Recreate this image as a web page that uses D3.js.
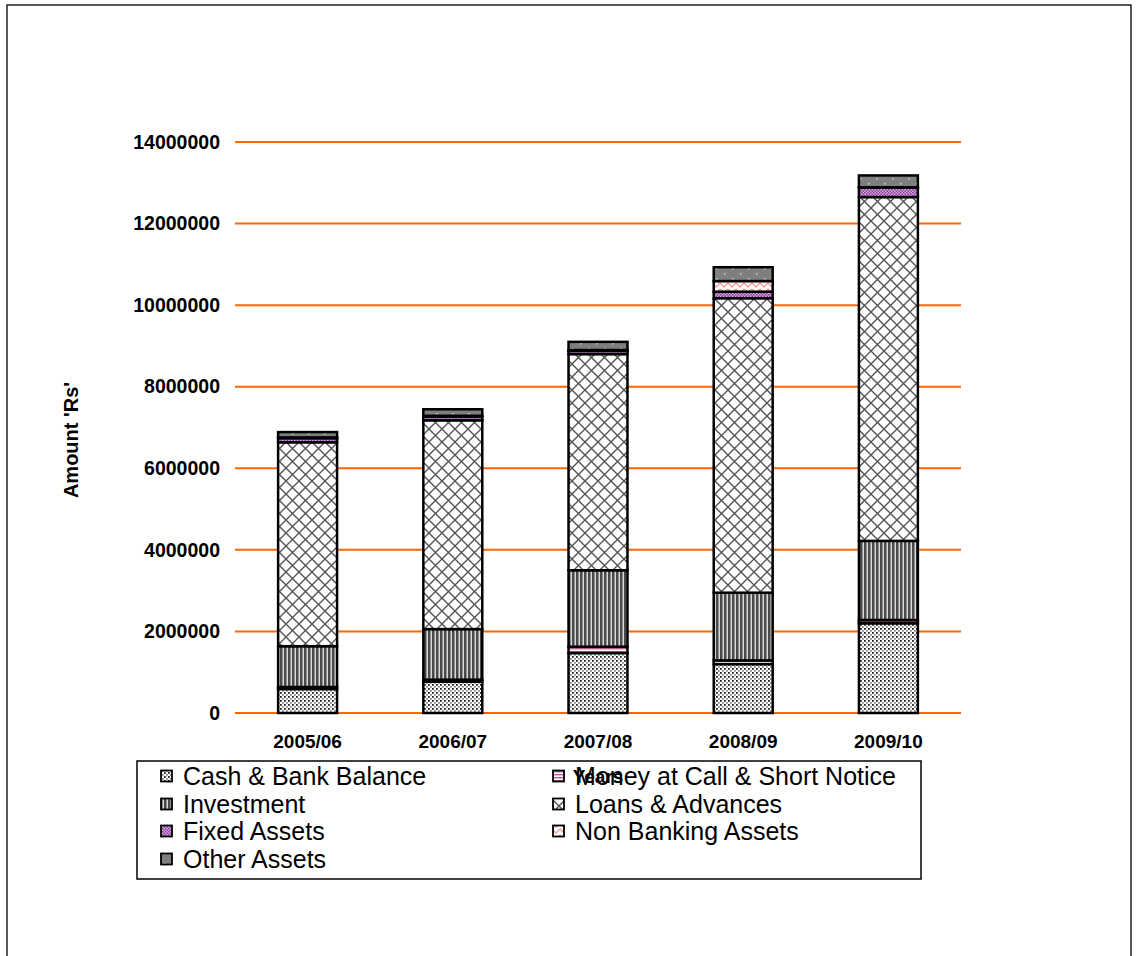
<!DOCTYPE html>
<html>
<head>
<meta charset="utf-8">
<script src="https://cdn.jsdelivr.net/npm/d3@7/dist/d3.min.js"></script>
<style>
  html, body { margin: 0; padding: 0; background: #fff; }
  svg { display: block; }
  text { font-family: "Liberation Sans", Arial, sans-serif; }
</style>
</head>
<body>
<svg id="chart" width="1138" height="956"></svg>
<script>
// Assets by year (Rs)
const years = ["2005/06", "2006/07", "2007/08", "2008/09", "2009/10"];
const seriesNames = [
  "Cash & Bank Balance",
  "Money at Call & Short Notice",
  "Investment",
  "Loans & Advances",
  "Fixed Assets",
  "Non Banking Assets",
  "Other Assets"
];
const cashBank      = [588000, 767000, 1470000, 1200000, 2200000];
const moneyAtCall   = [50000, 50000, 155000, 90000, 80000];
const investment    = [1000000, 1240000, 1875000, 1660000, 1940000];
const loansAdvances = [5000000, 5120000, 5300000, 7220000, 8430000];
const fixedAssets   = [100000, 90000, 80000, 160000, 230000];
const nonBanking    = [20000, 20000, 20000, 260000, 10000];
const otherAssets   = [130000, 160000, 200000, 340000, 290000];
const yTicks = [0, 2000000, 4000000, 6000000, 8000000, 10000000, 12000000, 14000000];

const seriesValues = [cashBank, moneyAtCall, investment, loansAdvances, fixedAssets, nonBanking, otherAssets];
const keys = seriesNames;
const table = years.map((y, i) => {
  const row = { year: y };
  keys.forEach((k, j) => { row[k] = seriesValues[j][i]; });
  return row;
});
const stacked = d3.stack().keys(keys)(table);

const svg = d3.select("#chart");

// Fill patterns
const defs = svg.append("defs");
function pattern(id, w, h, draw) {
  const p = defs.append("pattern").attr("id", id)
    .attr("patternUnits", "userSpaceOnUse").attr("width", w).attr("height", h);
  draw(p);
}
pattern("p0", 4, 4, p => {
  p.append("rect").attr("width", 4).attr("height", 4).attr("fill", "#fff");
  p.append("rect").attr("x", 0).attr("y", 0).attr("width", 1.8).attr("height", 1.8).attr("fill", "#222");
  p.append("rect").attr("x", 2).attr("y", 2).attr("width", 1.8).attr("height", 1.8).attr("fill", "#8a8a8a");
});
pattern("p1", 4, 3, p => {
  p.append("rect").attr("width", 4).attr("height", 3).attr("fill", "#fff");
  p.append("rect").attr("y", 0).attr("width", 4).attr("height", 1.4).attr("fill", "#b8608f");
});
pattern("p2", 4, 4, p => {
  p.append("rect").attr("width", 4).attr("height", 4).attr("fill", "#d8d8d8");
  p.append("rect").attr("x", 0).attr("width", 2.5).attr("height", 4).attr("fill", "#4a4a4a");
});
pattern("p3", 13, 13, p => {
  p.append("rect").attr("width", 13).attr("height", 13).attr("fill", "#fff");
  p.append("path").attr("d", "M0,0L13,13M13,0L0,13M-1,12L1,14M12,-1L14,1")
    .attr("stroke", "#555").attr("stroke-width", 1.4).attr("fill", "none");
});
pattern("p4", 3, 3, p => {
  p.append("rect").attr("width", 3).attr("height", 3).attr("fill", "#d6a8e0");
  p.append("rect").attr("x", 0).attr("y", 0).attr("width", 1.5).attr("height", 1.5).attr("fill", "#8a3a9a");
  p.append("rect").attr("x", 1.5).attr("y", 1.5).attr("width", 1.5).attr("height", 1.5).attr("fill", "#8a3a9a");
});
pattern("p5", 8, 6, p => {
  p.append("rect").attr("width", 8).attr("height", 6).attr("fill", "#fff");
  p.append("path").attr("d", "M0,1L4,5L8,1").attr("stroke", "#f29a9a").attr("stroke-width", 1.3).attr("fill", "none");
});
pattern("p6", 16, 10, p => {
  p.append("rect").attr("width", 16).attr("height", 10).attr("fill", "#7f7f7f");
  p.append("rect").attr("x", 4).attr("y", 3).attr("width", 1.5).attr("height", 1.5).attr("fill", "#d0d0d0");
  p.append("rect").attr("x", 12).attr("y", 8).attr("width", 1.5).attr("height", 1.5).attr("fill", "#d0d0d0");
});
const fills = keys.map((k, i) => `url(#p${i})`);

// Outer frame
svg.append("rect").attr("x", 7).attr("y", 5).attr("width", 1124).attr("height", 980)
  .attr("fill", "none").attr("stroke", "#000").attr("stroke-width", 1.3);

const plotLeft = 235, plotRight = 961, plotTop = 142, plotBottom = 713;

const x = d3.scaleBand().domain(years).range([plotLeft, plotRight])
  .paddingInner(0.594).paddingOuter(0.297);
const y = d3.scaleLinear().domain([0, 14000000]).range([plotBottom, plotTop]);

// Gridlines
svg.append("g").selectAll("line").data(yTicks).join("line")
  .attr("x1", plotLeft).attr("x2", plotRight)
  .attr("y1", d => y(d)).attr("y2", d => y(d))
  .attr("stroke", "#ff6600").attr("stroke-width", 2);

// Y axis tick labels
const yAxis = d3.axisLeft(y).tickValues(yTicks).tickSize(0).tickPadding(0)
  .tickFormat(d3.format("d"));
const gy = svg.append("g").attr("transform", `translate(220,0)`).call(yAxis);
gy.select(".domain").remove();
gy.selectAll("text").attr("font-family", "'Liberation Sans', Arial, sans-serif")
  .attr("font-size", 19.5).attr("font-weight", "bold").attr("fill", "#000");

// X axis category labels
const xAxis = d3.axisBottom(x).tickSize(0).tickPadding(0);
const gx = svg.append("g").attr("transform", `translate(0,${plotBottom + 21})`).call(xAxis);
gx.select(".domain").remove();
gx.selectAll("text").attr("font-family", "'Liberation Sans', Arial, sans-serif")
  .attr("font-size", 19).attr("font-weight", "bold").attr("fill", "#000");

// Stacked bars
svg.append("g").selectAll("g").data(stacked).join("g")
  .attr("fill", (d, i) => fills[i])
  .selectAll("rect").data(d => d).join("rect")
  .attr("x", d => x(d.data.year))
  .attr("width", x.bandwidth())
  .attr("y", d => y(d[1]))
  .attr("height", d => y(d[0]) - y(d[1]))
  .attr("stroke", "#000").attr("stroke-width", 2.5);

// Y axis title
svg.append("text")
  .attr("transform", "translate(78,440) rotate(-90)")
  .attr("text-anchor", "middle")
  .attr("font-size", 20).attr("font-weight", "bold")
  .text("Amount 'Rs'");

// Legend
const legend = svg.append("g");
legend.append("rect").attr("x", 137).attr("y", 761).attr("width", 784).attr("height", 118)
  .attr("fill", "#fff").attr("stroke", "#000").attr("stroke-width", 1.5);
const colX = [161, 553];
const rowY = [776, 804, 831, 859];
keys.forEach((k, i) => {
  const cx = colX[i % 2], cy = rowY[Math.floor(i / 2)];
  legend.append("rect").attr("x", cx).attr("y", cy - 5.5).attr("width", 11).attr("height", 11)
    .attr("fill", fills[i]).attr("stroke", "#000").attr("stroke-width", 1.8);
  legend.append("text").attr("x", cx + 22).attr("y", cy + 9)
    .attr("font-size", 25).attr("fill", "#000").text(k);
});

// X axis title
svg.append("text")
  .attr("x", (plotLeft + plotRight) / 2).attr("y", 783)
  .attr("text-anchor", "middle")
  .attr("font-size", 19).attr("font-weight", "bold")
  .text("Years");
</script>
</body>
</html>
